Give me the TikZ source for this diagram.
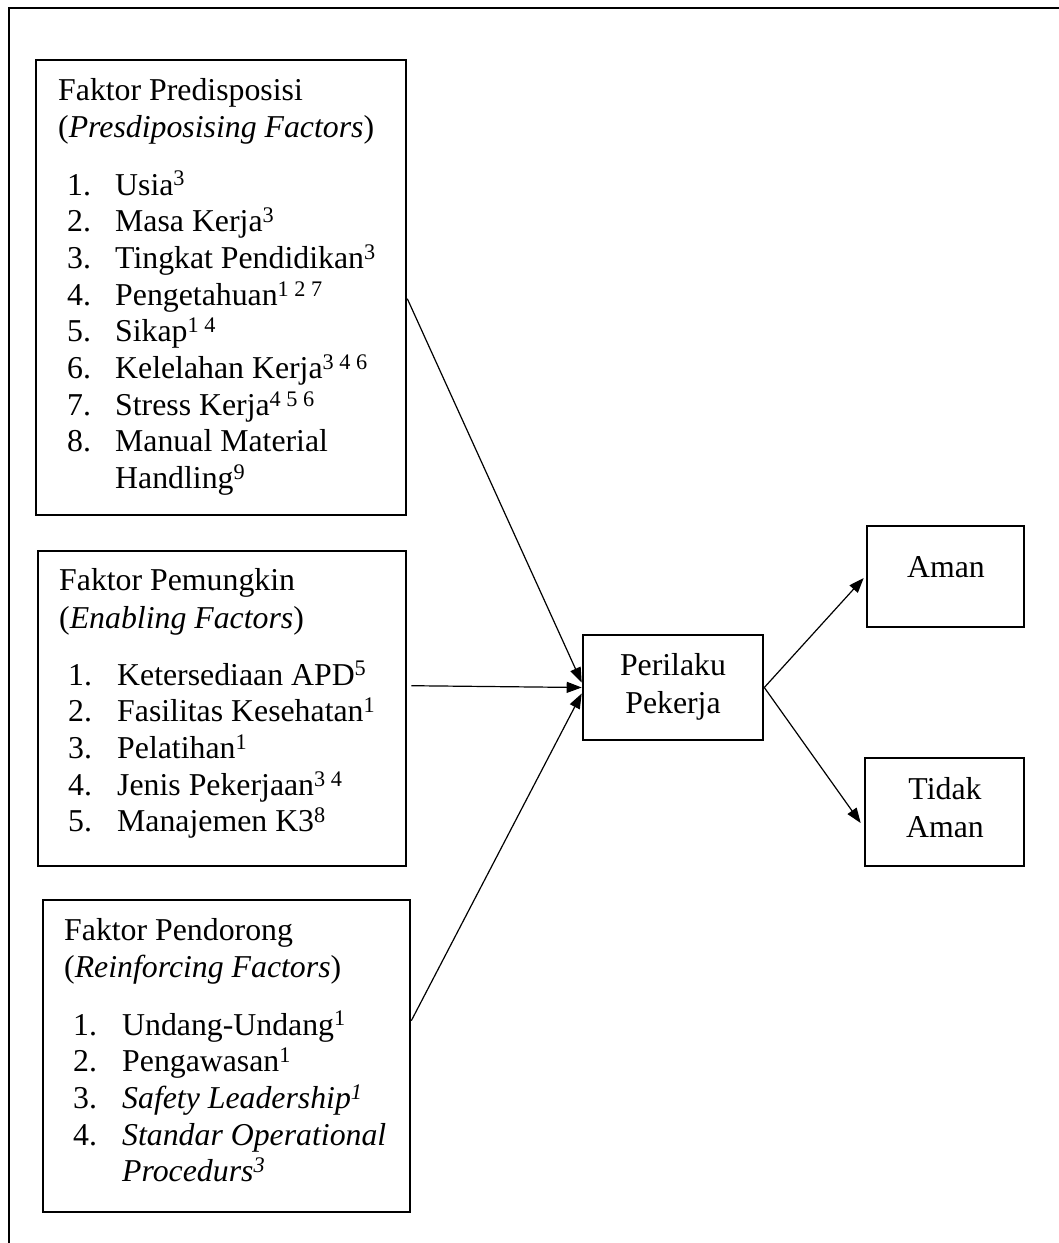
\documentclass[tikz,border=0pt]{standalone}
\usepackage{fontspec}
\setmainfont{Liberation Serif}
\usetikzlibrary{arrows.meta,calc}
\begin{document}
\begin{tikzpicture}[x=1pt,y=-1pt,
  box/.style={draw,line width=2.6pt,rectangle,inner sep=0pt,fill=none},
  txt/.style={anchor=base west,inner sep=0pt,font=\fontsize{31.8}{36.7}\selectfont},
  ctxt/.style={anchor=base,inner sep=0pt,font=\fontsize{31.8}{36.7}\selectfont},
  conn/.style={line width=1.2pt,-{Triangle[length=15pt,width=11pt]}}
]
\useasboundingbox (0,0) rectangle (1059,1243);
% outer frame (cropped at right and bottom)
\draw[line width=2.6pt] (9,1243) -- (9,8) -- (1059,8);

% boxes
\node[box,minimum width=370pt,minimum height=455pt] (f1) at (221,287.5) {};
\node[box,minimum width=368pt,minimum height=315pt] (f2) at (222,708.5) {};
\node[box,minimum width=367pt,minimum height=312pt] (f3) at (226.5,1056) {};
\node[box,minimum width=180pt,minimum height=105pt] (pk) at (673,687.5) {};
\node[box,minimum width=157pt,minimum height=101pt] (aman) at (945.5,576.5) {};
\node[box,minimum width=159pt,minimum height=108pt] (tidak) at (944.5,812) {};

% box 1 text
\node[txt] (a0) at (58,100.7) {Faktor Predisposisi};
\node[txt] (a00) at (58,137.2) {(\textit{Presdiposising Factors})};
\node[txt] (an1) at (67,195) {1.};  \node[txt] (a1) at (115,195) {Usia\textsuperscript{3}};
\node[txt] (an2) at (67,231.7) {2.}; \node[txt] (a2) at (115,231.7) {Masa Kerja\textsuperscript{3}};
\node[txt] (an3) at (67,268.4) {3.}; \node[txt] (a3) at (115,268.4) {Tingkat Pendidikan\textsuperscript{3}};
\node[txt] (an4) at (67,305.1) {4.}; \node[txt] (a4) at (115,305.1) {Pengetahuan\textsuperscript{1 2 7}};
\node[txt] (an5) at (67,341.8) {5.}; \node[txt] (a5) at (115,341.8) {Sikap\textsuperscript{1 4}};
\node[txt] (an6) at (67,378.5) {6.}; \node[txt] (a6) at (115,378.5) {Kelelahan Kerja\textsuperscript{3 4 6}};
\node[txt] (an7) at (67,415.2) {7.}; \node[txt] (a7) at (115,415.2) {Stress Kerja\textsuperscript{4 5 6}};
\node[txt] (an8) at (67,451.9) {8.}; \node[txt] (a8) at (115,451.9) {Manual Material};
\node[txt] (a8b) at (115,488.6) {Handling\textsuperscript{9}};

% box 2 text
\node[txt] (b0) at (59,590.7) {Faktor Pemungkin};
\node[txt] (b00) at (59,628) {(\textit{Enabling Factors})};
\node[txt] (bn1) at (68,685) {1.}; \node[txt] (b1) at (117,685) {Ketersediaan APD\textsuperscript{5}};
\node[txt] (bn2) at (68,721.7) {2.}; \node[txt] (b2) at (117,721.7) {Fasilitas Kesehatan\textsuperscript{1}};
\node[txt] (bn3) at (68,758.4) {3.}; \node[txt] (b3) at (117,758.4) {Pelatihan\textsuperscript{1}};
\node[txt] (bn4) at (68,795.1) {4.}; \node[txt] (b4) at (117,795.1) {Jenis Pekerjaan\textsuperscript{3 4}};
\node[txt] (bn5) at (68,831.8) {5.}; \node[txt] (b5) at (117,831.8) {Manajemen K3\textsuperscript{8}};

% box 3 text
\node[txt] (c0) at (64,940) {Faktor Pendorong};
\node[txt] (c00) at (64,977) {(\textit{Reinforcing Factors})};
\node[txt] (cn1) at (73,1035) {1.}; \node[txt] (c1) at (122,1035) {Undang-Undang\textsuperscript{1}};
\node[txt] (cn2) at (73,1071.7) {2.}; \node[txt] (c2) at (122,1071.7) {Pengawasan\textsuperscript{1}};
\node[txt] (cn3) at (73,1108.4) {3.}; \node[txt] (c3) at (122,1108.4) {\textit{Safety Leadership\textsuperscript{1}}};
\node[txt] (cn4) at (73,1145.1) {4.}; \node[txt] (c4) at (122,1145.1) {\textit{Standar Operational}};
\node[txt] (c4b) at (122,1181.8) {\textit{Procedurs\textsuperscript{3}}};

% center and outcome text
\node[ctxt] (pk1) at (673,675) {Perilaku};
\node[ctxt] (pk2) at (673,713) {Pekerja};
\node[ctxt] (am1) at (946,577) {Aman};
\node[ctxt] (td1) at (945,799) {Tidak};
\node[ctxt] (td2) at (945,837) {Aman};

% connectors
\coordinate (s1) at ($(f1.north east)+(0,240)$);
\coordinate (s2) at ($(f2.north east)+(4,136)$);
\coordinate (s3) at ($(f3.north east)+(0,122)$);
\draw[conn] (s1) -- ($(pk.west)+(0,-5)$);
\draw[conn] (s2) -- (pk.west);
\draw[conn] (s3) -- ($(pk.west)+(0,6)$);
\draw[conn] (pk.east) -- ($(aman.west)+(-2,1.5)$);
\draw[conn] (pk.east) -- ($(tidak.west)+(-3,11)$);
\end{tikzpicture}
\end{document}
